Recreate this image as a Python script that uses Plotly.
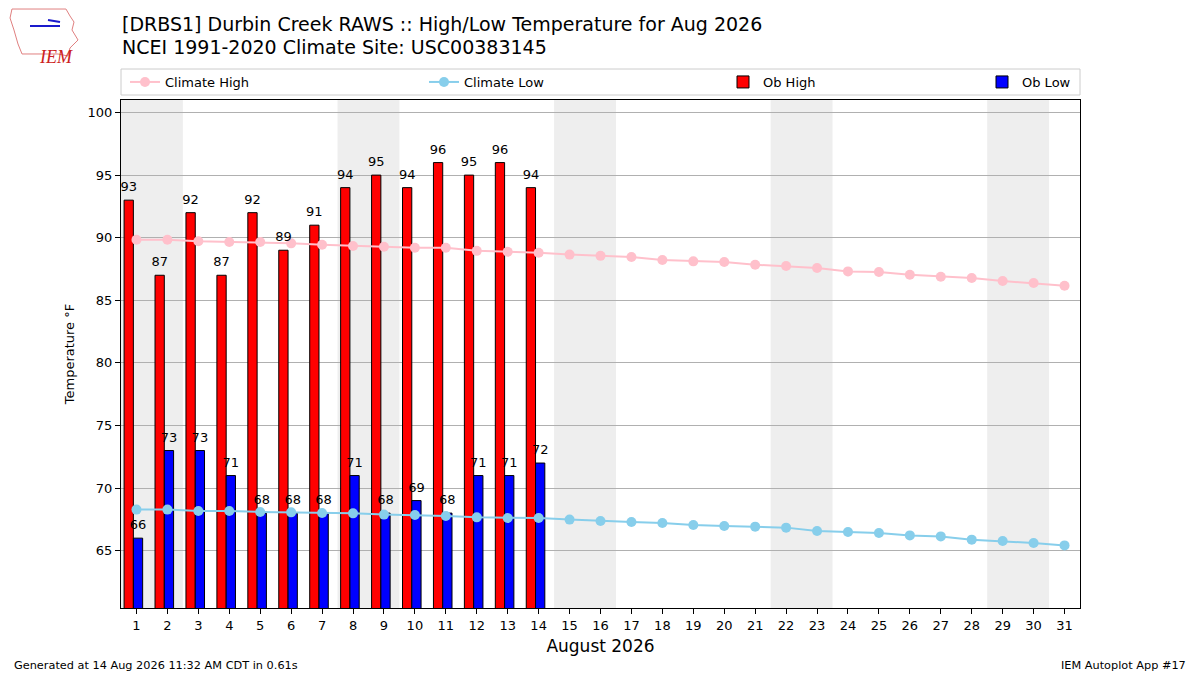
import pandas as pd
import plotly.graph_objects as go

# Aug 2026 data read from the IEM autoplot
days = list(range(1, 32))
ob_days = list(range(1, 15))
ob_high = [93, 87, 92, 87, 92, 89, 91, 94, 95, 94, 96, 95, 96, 94]
ob_low = [66, 73, 73, 71, 68, 68, 68, 71, 68, 69, 68, 71, 71, 72]
climate_high = [89.84, 89.84, 89.71, 89.66, 89.66, 89.55, 89.44, 89.34, 89.28, 89.2,
                89.2, 88.95, 88.88, 88.8, 88.65, 88.55, 88.46, 88.22, 88.11, 88.06,
                87.84, 87.74, 87.58, 87.31, 87.26, 87.04, 86.88, 86.78, 86.54, 86.38,
                86.16]
climate_low = [68.28, 68.28, 68.17, 68.17, 68.09, 68.06, 68.01, 67.98, 67.88, 67.85,
               67.77, 67.66, 67.61, 67.61, 67.48, 67.37, 67.29, 67.21, 67.05, 66.97,
               66.92, 66.84, 66.57, 66.49, 66.41, 66.22, 66.14, 65.88, 65.77, 65.61,
               65.42]

title_lines = ["[DRBS1] Durbin Creek RAWS :: High/Low Temperature for Aug 2026",
               "NCEI 1991-2020 Climate Site: USC00383145"]
footer_left = "Generated at 14 Aug 2026 11:32 AM CDT in 0.61s"
footer_right = "IEM Autoplot App #17"

FONT = "DejaVu Sans"
W, H = 1200, 675
ML, MR, MT, MB = 121, 120, 100, 67
PW, PH = W - ML - MR, H - MT - MB
BAR_W = 0.3
HIGH_OFF, LOW_OFF = -0.4, -0.1
LABEL_PAD = 0.45  # gap between bar top and its label, in deg F


def px(x, y):
    # pixel position -> paper coords
    return (x - ML) / PW, (H - MB - y) / PH


fig = go.Figure()

fig.add_trace(go.Bar(x=ob_days, y=ob_high, name="Ob High", width=BAR_W, offset=HIGH_OFF,
                     marker=dict(color="red", line=dict(color="black", width=1)),
                     legend="legend3"))
fig.add_trace(go.Bar(x=ob_days, y=ob_low, name="Ob Low", width=BAR_W, offset=LOW_OFF,
                     marker=dict(color="blue", line=dict(color="black", width=1)),
                     legend="legend4"))
fig.add_trace(go.Scatter(x=days, y=climate_high, mode="lines+markers", name="Climate High",
                         line=dict(color="pink", width=2), marker=dict(color="pink", size=10),
                         legend="legend"))
fig.add_trace(go.Scatter(x=days, y=climate_low, mode="lines+markers", name="Climate Low",
                         line=dict(color="skyblue", width=2), marker=dict(color="skyblue", size=10),
                         legend="legend2"))

# value labels above the bars, drawn last so they sit on top of the lines
for vals, off in [(ob_high, HIGH_OFF), (ob_low, LOW_OFF)]:
    fig.add_trace(go.Scatter(x=[d + off + BAR_W / 2 for d in ob_days],
                             y=[v + LABEL_PAD for v in vals],
                             mode="text", text=[str(v) for v in vals],
                             textposition="top center", cliponaxis=False,
                             textfont=dict(size=13, color="black"),
                             showlegend=False, hoverinfo="skip"))

# weekend shading
dates = pd.date_range("2026-08-01", "2026-08-31")
for d in dates:
    if d.dayofweek == 5:
        fig.add_vrect(x0=d.day - 0.5, x1=d.day + 1.5, fillcolor="#eeeeee",
                      line_width=0, layer="below")

all_vals = ob_high + ob_low + climate_high + climate_low
ymin, ymax = min(all_vals) - 5, max(all_vals) + 5

fig.update_xaxes(range=[0.5, 31.5], tickmode="array", tickvals=days,
                 ticks="outside", ticklen=5, tickcolor="black",
                 showline=True, linecolor="black", mirror=True, showgrid=False,
                 tickfont=dict(size=13, color="black"),
                 title=dict(text="August 2026", font=dict(size=17, color="black"), standoff=8))
fig.update_yaxes(range=[ymin, ymax], tickmode="array", tickvals=list(range(65, 101, 5)),
                 ticks="outside", ticklen=5, tickcolor="black",
                 showline=True, linecolor="black", mirror=True,
                 showgrid=True, gridcolor="#b0b0b0", gridwidth=1, zeroline=False,
                 tickfont=dict(size=13, color="black"),
                 title=dict(text="Temperature °F", font=dict(size=13, color="black"), standoff=10))

# one small legend per entry, spread like matplotlib's expanded legend
leg_common = dict(orientation="h", xanchor="left", yanchor="middle",
                  bgcolor="rgba(0,0,0,0)", borderwidth=0,
                  font=dict(size=13, color="black"))
leg_y = px(0, 82)[1]
fig.update_layout(
    width=W, height=H,
    margin=dict(l=ML, r=MR, t=MT, b=MB),
    paper_bgcolor="white", plot_bgcolor="white",
    font=dict(family=FONT, color="black"),
    barmode="overlay",
    showlegend=True,
    legend=dict(x=px(125, 0)[0], y=leg_y, **leg_common),
    legend2=dict(x=px(424, 0)[0], y=leg_y, **leg_common),
    legend3=dict(x=px(723, 0)[0], y=leg_y, **leg_common),
    legend4=dict(x=px(982, 0)[0], y=leg_y, **leg_common),
)

# legend frame
fig.add_shape(type="rect", xref="paper", yref="paper",
              x0=0, x1=1, y0=px(0, 95)[1], y1=px(0, 69)[1],
              line=dict(color="#cccccc", width=1), fillcolor="white")

for line, ypx in zip(title_lines, [24, 47]):
    fig.add_annotation(text=line, xref="paper", yref="paper",
                       x=px(120, 0)[0], y=px(0, ypx)[1], xanchor="left", yanchor="middle",
                       showarrow=False, font=dict(size=19, color="black"))

fig.add_annotation(text=footer_left, xref="paper", yref="paper",
                   x=px(12, 0)[0], y=px(0, 665)[1],
                   xanchor="left", yanchor="middle", showarrow=False,
                   font=dict(size=11.3, color="black"))
fig.add_annotation(text=footer_right, xref="paper", yref="paper",
                   x=px(1188, 0)[0], y=px(0, 665)[1],
                   xanchor="right", yanchor="middle", showarrow=False,
                   font=dict(size=11.3, color="black"))

# IEM logo stand-in: rough state outline, a blue mark and the letters
outline = [(12, 9), (66, 9), (70, 16), (74, 22), (72, 30), (78, 40), (70, 48),
           (68, 56), (58, 54), (22, 54), (18, 44), (14, 30), (10, 18)]
path = "M " + " L ".join(f"{px(a, b)[0]:.4f},{px(a, b)[1]:.4f}" for a, b in outline) + " Z"
fig.add_shape(type="path", path=path, xref="paper", yref="paper",
              line=dict(color="#e08080", width=1))
fig.add_shape(type="line", xref="paper", yref="paper",
              x0=px(30, 26)[0], y0=px(30, 26)[1], x1=px(60, 26)[0], y1=px(60, 26)[1],
              line=dict(color="#1a1acc", width=2))
fig.add_shape(type="line", xref="paper", yref="paper",
              x0=px(48, 20)[0], y0=px(48, 20)[1], x1=px(60, 22)[0], y1=px(60, 22)[1],
              line=dict(color="#1a1acc", width=2))
fig.add_annotation(text="<i>IEM</i>", xref="paper", yref="paper",
                   x=px(37, 45)[0], y=px(37, 45)[1], showarrow=False,
                   font=dict(family="Liberation Serif", size=18, color="#cc2020"))

fig.write_html("out.html", config={"displayModeBar": False},
               post_script="document.body.style.margin='0';")
